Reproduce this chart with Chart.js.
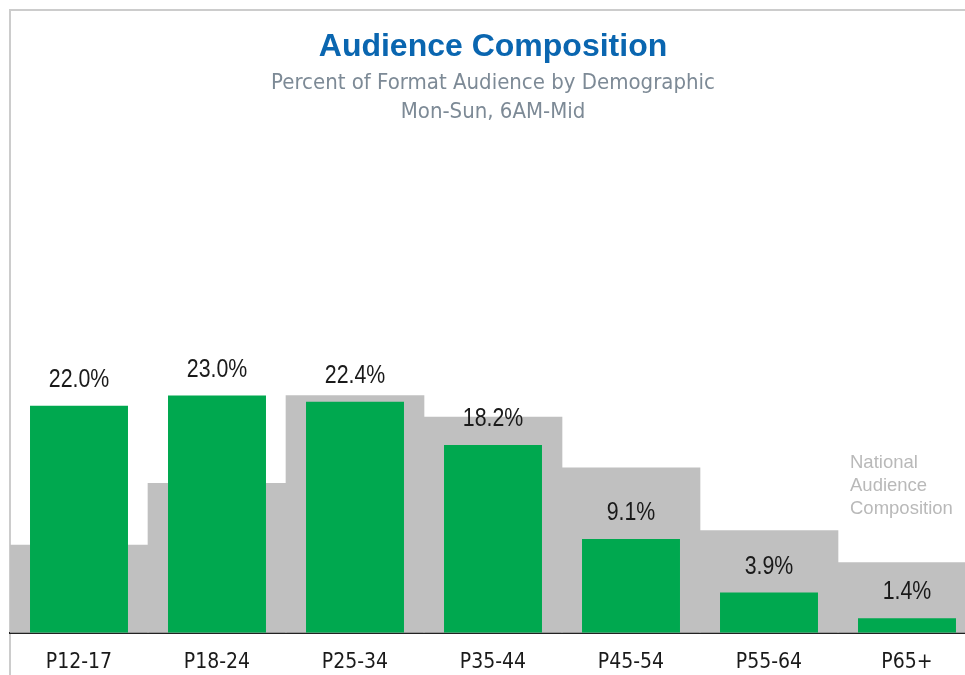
<!DOCTYPE html>
<html>
<head>
<meta charset="utf-8">
<script src="https://cdn.jsdelivr.net/npm/chart.js@4.4.1/dist/chart.umd.min.js"></script>
<style>
  html, body { margin: 0; padding: 0; background: #fff; overflow: hidden; }
  #wrap { position: relative; width: 965px; height: 675px; overflow: hidden; }
  #frame { position: absolute; left: 9px; top: 9px; width: 1000px; height: 700px; border-left: 2px solid #cccccc; border-top: 2px solid #cccccc; }
  #audChart { position: absolute; left: 0; top: 0; }
</style>
</head>
<body>
<div id="wrap">
  <div id="frame"></div>
  <canvas id="audChart" width="990" height="684"></canvas>
</div>
<script>
// demographic categories
const categories = ['P12-17', 'P18-24', 'P25-34', 'P35-44', 'P45-54', 'P55-64', 'P65+'];
// format audience share (%)
const formatShare = [22.0, 23.0, 22.4, 18.2, 9.1, 3.9, 1.4];
// national audience composition (%), read from the grey blocks
const nationalShare = [8.5, 14.5, 23.0, 20.9, 16.0, 9.9, 6.8];

const condensed = "'DejaVu Sans Condensed', 'Liberation Sans Narrow', sans-serif";

// value labels over the green bars + the "National Audience Composition" note
const labelPlugin = {
    id: 'barLabels',
    afterDatasetsDraw(chart) {
        const ctx = chart.ctx;
        const greenMeta = chart.getDatasetMeta(0);
        ctx.font = '26px "Liberation Sans", Arial, sans-serif';
        ctx.fillStyle = '#1a1a1a';
        ctx.textAlign = 'center';
        ctx.textBaseline = 'alphabetic';
        greenMeta.data.forEach((bar, i) => {
            // squeeze horizontally to get a narrow face
            ctx.save();
            ctx.translate(bar.x, bar.y - 19);
            ctx.scale(0.82, 1);
            ctx.fillText(formatShare[i].toFixed(1) + '%', 0, 0);
            ctx.restore();
        });

        // note above the last grey block
        const greyMeta = chart.getDatasetMeta(1);
        const last = greyMeta.data[greyMeta.data.length - 1];
        const x0 = last.x - last.width / 2 + 12;
        ctx.save();
        ctx.font = '18.5px "Liberation Sans", Arial, sans-serif';
        ctx.fillStyle = '#b9b9b9';
        ctx.textAlign = 'left';
        ctx.textBaseline = 'middle';
        ['National', 'Audience', 'Composition'].forEach((t, k) => {
            ctx.fillText(t, x0, last.y - 100 + k * 23);
        });
        ctx.restore();
    }
};

const ctx = document.getElementById('audChart').getContext('2d');
const audChart = new Chart(ctx, {
    type: 'bar',
    data: {
        labels: categories,
        datasets: [
            {
                label: 'Format',
                data: formatShare,
                backgroundColor: '#00a84f',
                barPercentage: 0.71,
                categoryPercentage: 1,
                grouped: false,
                order: 1
            },
            {
                label: 'National',
                data: nationalShare,
                backgroundColor: '#c0c0c0',
                barPercentage: 1,
                categoryPercentage: 1,
                grouped: false,
                order: 2
            }
        ]
    },
    options: {
        responsive: false,
        animation: false,
        layout: {
            padding: { left: 10, right: 14, top: 0, bottom: 0 }
        },
        scales: {
            x: {
                grid: { display: false },
                border: { display: true, color: '#222222', width: 2 },
                ticks: {
                    color: '#1a1a1a',
                    font: { family: condensed, size: 21 },
                    padding: 9
                }
            },
            y: {
                display: false,
                min: 0,
                max: 45
            }
        },
        plugins: {
            legend: { display: false },
            tooltip: { enabled: false },
            title: {
                display: true,
                text: 'Audience Composition',
                color: '#0a66b0',
                font: { family: '"Liberation Sans", Arial, sans-serif', size: 32, weight: 'bold', lineHeight: 1.2 },
                padding: { top: 28, bottom: 3 }
            },
            subtitle: {
                display: true,
                text: ['Percent of Format Audience by Demographic', 'Mon-Sun, 6AM-Mid'],
                color: '#7d8a96',
                font: { family: condensed, size: 22, lineHeight: 1.3 },
                padding: { top: 0, bottom: 42 }
            }
        }
    },
    plugins: [labelPlugin]
});
</script>
</body>
</html>
